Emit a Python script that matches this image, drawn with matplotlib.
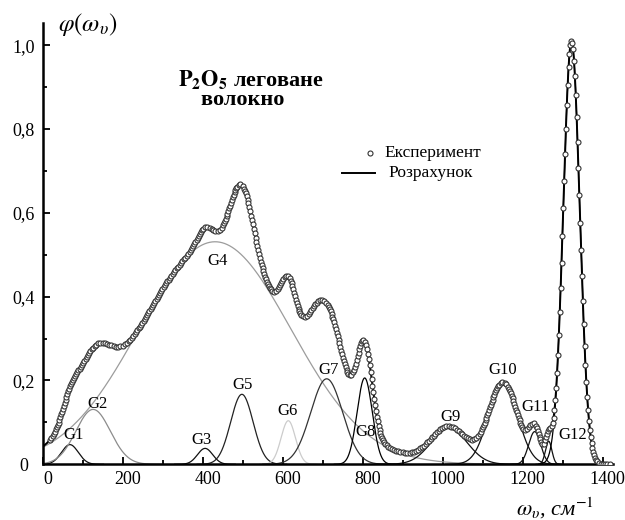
import numpy as np
import matplotlib.pyplot as plt
from matplotlib.ticker import MultipleLocator, FuncFormatter
import matplotlib.transforms as mtrans

plt.rcParams['font.family'] = ['Liberation Serif', 'DejaVu Serif']
plt.rcParams['mathtext.fontset'] = 'stix'

# gaussian components (centre cm-1, height, sigma cm-1)
names   = ['G1', 'G2', 'G3', 'G4', 'G5', 'G6', 'G7', 'G8', 'G9', 'G10', 'G11', 'G12', '']
centres = [68, 126, 406, 431, 498, 614, 710, 805, 1016, 1151, 1230, 1265, 1322]
heights = [0.047, 0.131, 0.038, 0.531, 0.167, 0.104, 0.204, 0.206, 0.086, 0.195, 0.078, 0.055, 1.01]
sigmas  = [21, 43, 19, 190, 28, 18, 40, 19, 45, 36, 15, 8, 20.5]
colours = ['#111111', '#8c8c8c', '#111111', '#9c9c9c', '#222222', '#cccccc', '#333333',
           '#000000', '#111111', '#111111', '#111111', '#111111', '#000000']

# where the G labels sit
label_x = [76, 137, 397, 438, 500, 611, 714, 807, 1020, 1150, 1233, 1325]
label_y = [0.070, 0.143, 0.058, 0.485, 0.189, 0.128, 0.225, 0.078, 0.112, 0.225, 0.137, 0.070]

exp_start, exp_end = 18, 1422


def gauss(x, c, h, s):
    return h * np.exp(-(x - c) ** 2 / (2.0 * s * s))


def model(x):
    return sum(gauss(x, c, h, s) for c, h, s in zip(centres, heights, sigmas))


# experimental points: roughly even spacing along the curve on screen
xs = [exp_start]
while xs[-1] < exp_end:
    x0 = xs[-1]
    d = model(x0 + 0.5) - model(x0 - 0.5)
    ds = np.hypot(0.4, 419 * d)
    xs.append(x0 + max(2.3 / ds, 2.2))
x_exp = np.array(xs[:-1])
y_exp = model(x_exp)

x = np.linspace(0, 1420, 3000)

fig = plt.figure(figsize=(6.25, 5.2), dpi=100)
ax = fig.add_axes([0.0683, 0.1071, 0.912, 0.8487])

for i in range(len(names)):
    c, h, s = centres[i], heights[i], sigmas[i]
    xx = x[(x > c - 4 * s) & (x < c + 4 * s)]
    ax.plot(xx, gauss(xx, c, h, s), color=colours[i], lw=0.9, zorder=2)

ax.plot(x, model(x), color='black', lw=1.4, zorder=3)
ax.plot(x_exp, y_exp, 'o', ms=3.6, mfc='white', mec='#333333', mew=0.8, zorder=4)

for i in range(len(label_x)):
    ax.text(label_x[i], label_y[i], names[i], fontsize=12, ha='center', va='center', zorder=5)

# title (two lines in one text)
ax.text(521, 0.944, r'$\mathbf{P_2O_5}$ леговане' + '\nволокно   ', fontsize=16,
        fontweight='bold', ha='center', va='top', ma='center', linespacing=0.85)

# hand-made legend
ax.plot([0.574], [0.7054], 'o', ms=3.6, mfc='white', mec='#333333', mew=0.8,
        transform=ax.transAxes, clip_on=False)
ax.text(0.600, 0.7054, 'Експеримент', fontsize=12.5, va='center', transform=ax.transAxes)
ax.plot([0.5246, 0.5833], [0.6594, 0.6594], color='black', lw=1.4, transform=ax.transAxes)
ax.text(0.6058, 0.6594, 'Розрахунок', fontsize=12.5, va='center', transform=ax.transAxes)

ax.set_xlim(0, 1425)
ax.set_ylim(0, 1.053)
ax.spines['top'].set_visible(False)
ax.spines['right'].set_visible(False)
ax.spines['left'].set_linewidth(1.8)
ax.spines['bottom'].set_linewidth(1.8)

ax.xaxis.set_major_locator(MultipleLocator(200))
ax.xaxis.set_minor_locator(MultipleLocator(100))
ax.yaxis.set_major_locator(MultipleLocator(0.2))
ax.yaxis.set_minor_locator(MultipleLocator(0.1))
ax.yaxis.set_major_formatter(FuncFormatter(lambda v, p: '0' if abs(v) < 1e-9 else ('%.1f' % v).replace('.', ',')))
ax.tick_params(which='both', direction='in', top=False, right=False, width=1.3, labelsize=13)
ax.tick_params(which='major', length=5)
ax.tick_params(which='minor', length=3)
ax.tick_params(axis='x', pad=5)
ax.tick_params(axis='y', pad=13.5)

shift = mtrans.ScaledTranslation(5 / 100, 0, fig.dpi_scale_trans)
for lab in ax.get_xticklabels():
    lab.set_transform(lab.get_transform() + shift)
for lab in ax.get_yticklabels():
    lab.set_horizontalalignment('center')

fig.text(0.1408, 0.952, r'$\varphi(\omega_\upsilon)$', fontsize=18, ha='center', va='center')
fig.text(0.888, 0.023, r'$\omega_\upsilon$, см$^{-1}$', fontsize=16, style='italic',
         ha='center', va='center')

fig.savefig('out.png', dpi=100)
